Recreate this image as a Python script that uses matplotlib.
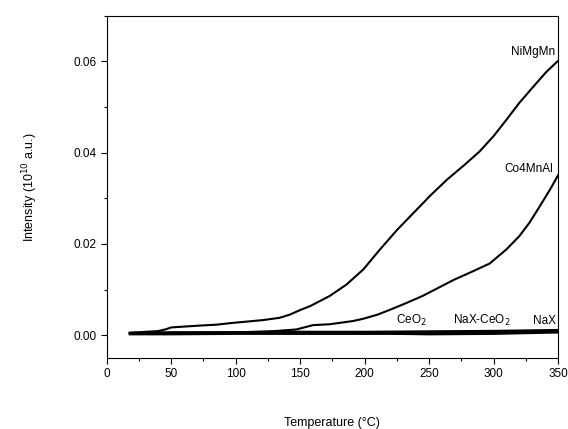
import numpy as np
import matplotlib
matplotlib.use("Agg")
from matplotlib import pyplot as plt
from matplotlib.ticker import MultipleLocator

plt.rcParams['font.family'] = ['Liberation Sans', 'DejaVu Sans']

# temperature (°C) and intensity (10^10 a.u.)
temp_nimgmn = [18, 28, 40, 46, 50, 72, 85, 98, 121, 134, 142, 150, 158, 173, 186,
               199, 212, 225, 238, 251, 264, 277, 289, 300, 310, 320, 331, 341, 350]
int_nimgmn = [0.0005, 0.0007, 0.0009, 0.0013, 0.0017, 0.0021, 0.0023, 0.0027, 0.0033,
              0.0038, 0.0045, 0.0055, 0.0064, 0.0086, 0.0111, 0.0144, 0.0188, 0.0230,
              0.0268, 0.0306, 0.0341, 0.0372, 0.0402, 0.0436, 0.0472, 0.0509, 0.0545,
              0.0577, 0.0601]

temp_co4mnal = [18, 60, 100, 130, 147, 160, 173, 191, 199, 210, 220, 232, 245, 256,
                269, 284, 297, 310, 320, 328, 336, 344, 350]
int_co4mnal = [0.0004, 0.0005, 0.0006, 0.0009, 0.00125, 0.0022, 0.0024, 0.0031, 0.0036,
               0.0045, 0.0056, 0.0070, 0.0086, 0.0102, 0.0121, 0.0140, 0.0157, 0.0188,
               0.0217, 0.0247, 0.0283, 0.0320, 0.0350]

temp_base = [18, 50, 100, 150, 200, 250, 300, 350]
int_ceo2 = [0.0004, 0.0005, 0.0006, 0.0007, 0.0004, 0.0002, 0.0003, 0.0006]
int_naxceo2 = [0.0002, 0.0002, 0.0003, 0.0003, 0.0003, 0.0004, 0.0006, 0.0008]
int_nax = [0.0005, 0.0006, 0.0006, 0.0007, 0.0007, 0.0008, 0.0009, 0.0011]

fig = plt.figure(figsize=(5.68, 4.29), dpi=100)
ax = fig.add_axes([0.1878, 0.1655, 0.7946, 0.7979])

ax.plot(temp_nimgmn, int_nimgmn, color='black', lw=1.5)
ax.plot(temp_co4mnal, int_co4mnal, color='black', lw=1.5)
ax.plot(temp_base, int_ceo2, color='black', lw=1.6)
ax.plot(temp_base, int_naxceo2, color='black', lw=1.6)
ax.plot(temp_base, int_nax, color='black', lw=1.8)

ax.text(347.5, 0.0621, 'NiMgMn', ha='right', va='center', fontsize=8.5)
ax.text(346.5, 0.0365, 'Co4MnAl', ha='right', va='center', fontsize=8.5)
ax.text(236, 0.0032, 'CeO$_2$', ha='center', va='center', fontsize=8.5)
ax.text(291, 0.0032, 'NaX-CeO$_2$', ha='center', va='center', fontsize=8.5)
ax.text(348.5, 0.0032, 'NaX', ha='right', va='center', fontsize=8.5)

ax.set_xlim(0, 350)
ax.set_ylim(-0.005, 0.07)
ax.set_xticks([0, 50, 100, 150, 200, 250, 300, 350])
ax.set_yticks([0.00, 0.02, 0.04, 0.06])
ax.set_yticklabels(['0.00', '0.02', '0.04', '0.06'])
ax.xaxis.set_minor_locator(MultipleLocator(25))
ax.yaxis.set_minor_locator(MultipleLocator(0.01))
ax.tick_params(which='major', length=4, width=0.8, labelsize=8.5)
ax.tick_params(which='minor', length=2, width=0.8)
for s in ax.spines.values():
    s.set_linewidth(0.8)

ax.set_xlabel('Temperature (°C)', fontsize=9, labelpad=26)
ax.set_ylabel('Intensity (10$^{10}$ a.u.)', fontsize=9, labelpad=24)

fig.savefig('out.png', dpi=100)
